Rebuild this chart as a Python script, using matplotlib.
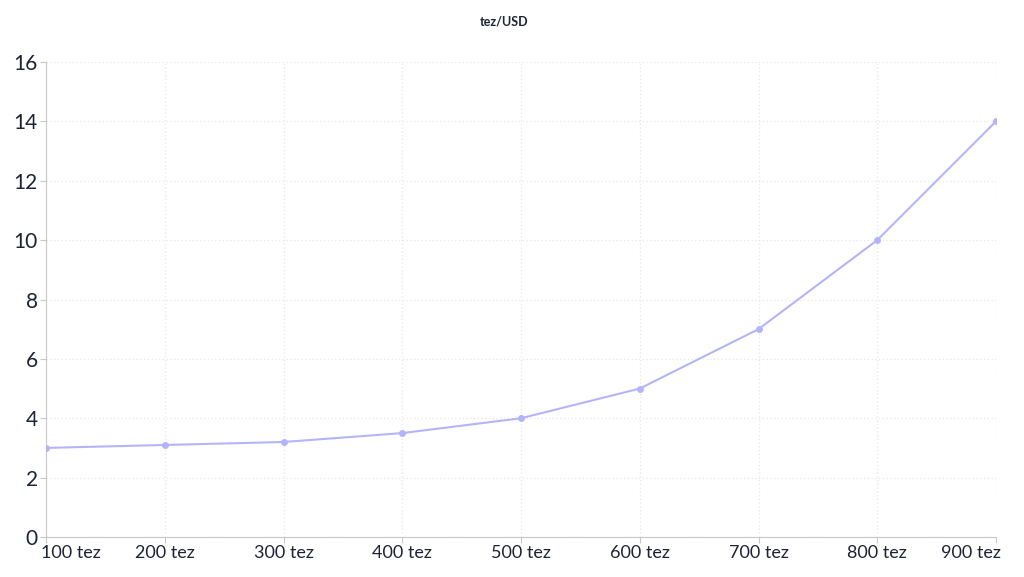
import matplotlib.pyplot as plt
import matplotlib.transforms as mtransforms

labels = ['100 tez', '200 tez', '300 tez', '400 tez', '500 tez',
          '600 tez', '700 tez', '800 tez', '900 tez']
prices = [3, 3.1, 3.2, 3.5, 4, 5, 7, 10, 14]

plt.rcParams['font.family'] = ['Lato', 'DejaVu Sans']

fig = plt.figure(figsize=(10.24, 5.77), dpi=100)
ax = fig.add_axes([46 / 1024, 40 / 577, 950 / 1024, 475 / 577])

x = list(range(len(labels)))
ax.plot(x, prices, color='#b4b4fb', linewidth=1.5, marker='o',
        markersize=4, zorder=3)

ax.set_xlim(0, len(labels) - 1)
ax.set_ylim(0, 16)
ax.set_xticks(x)
ax.set_xticklabels(labels)
ax.set_yticks(range(0, 17, 2))

ax.grid(True, color='#e6e6e6', linestyle=(0, (1, 2)), linewidth=0.9)
ax.set_axisbelow(True)

for side in ['top', 'right']:
    ax.spines[side].set_visible(False)
for side in ['left', 'bottom']:
    ax.spines[side].set_color('#c8c8c8')

ax.tick_params(axis='y', labelsize=15, colors='#c8c8c8', labelcolor='#1e2235',
               length=4, pad=2)
ax.tick_params(axis='x', labelsize=13, colors='#c8c8c8', labelcolor='#1e2235',
               length=4, pad=2)

# first and last x labels hug the plot edges like in the original
xt = ax.get_xticklabels()
xt[0].set_ha('left')
xt[0].set_transform(xt[0].get_transform() +
                    mtransforms.ScaledTranslation(-5 / 100, 0, fig.dpi_scale_trans))
xt[-1].set_ha('right')
xt[-1].set_transform(xt[-1].get_transform() +
                     mtransforms.ScaledTranslation(5 / 100, 0, fig.dpi_scale_trans))

fig.text(0.492, 0.962, 'tez/USD', ha='center', va='center', fontsize=9,
         color='#1e2235', fontweight='bold')

fig.savefig('out.png', dpi=100)
